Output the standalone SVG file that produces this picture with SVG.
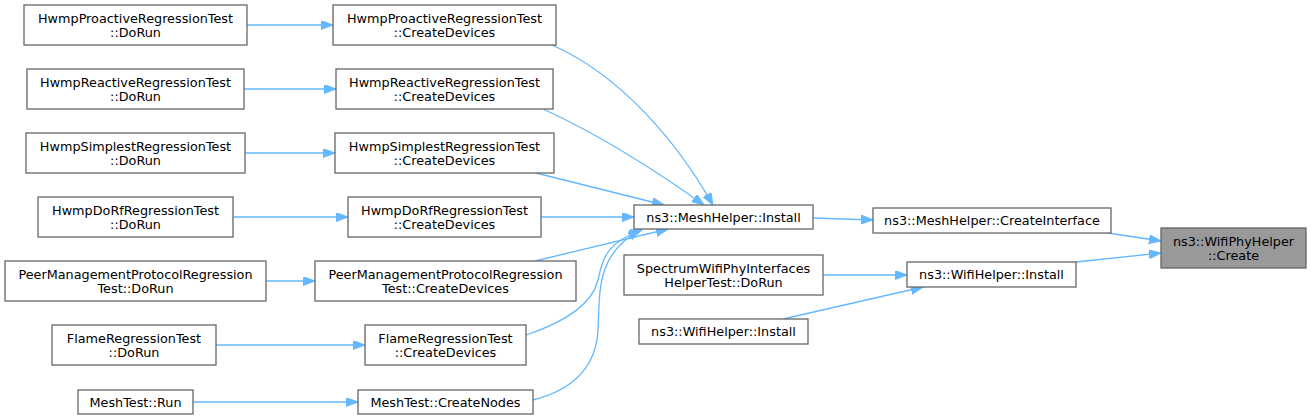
<svg xmlns="http://www.w3.org/2000/svg" width="1312" height="420" viewBox="0 0 1312 420">
<style>
.n rect{fill:#ffffff;stroke:#666666;stroke-width:1.3}
.n.hl rect{fill:#999999}
.n text{font-family:"DejaVu Sans","Liberation Sans",sans-serif;font-size:12.8px;fill:#000000;text-anchor:middle}
.e path{fill:none;stroke:#63b8ff;stroke-width:1.3;marker-end:url(#ah)}
</style>
<defs>
<marker id="ah" markerUnits="userSpaceOnUse" markerWidth="13" markerHeight="10" refX="12" refY="4.5" orient="auto">
<path d="M0,0 L12,4.5 L0,9 z" fill="#63b8ff" stroke="#63b8ff" stroke-width="1"/>
</marker>
</defs>
<rect width="1312" height="420" fill="#ffffff"/>
<g id="edges" class="e">
<path d="M247,25 L333,25"/>
<path d="M244,89 L336,89"/>
<path d="M245,153 L335,153"/>
<path d="M233,217 L348,217"/>
<path d="M266,281 L315,281"/>
<path d="M216,345 L365,345"/>
<path d="M193,402 L358,402"/>
<path d="M552,45 C620,75 676,140 713,205"/>
<path d="M543,109 C600,135 655,170 704,205"/>
<path d="M536,173 L664,205"/>
<path d="M541,217 L634,217"/>
<path d="M535,261 L668,229"/>
<path d="M526,335 C565,322 592,305 598,280 C603,258 606,243 642,230"/>
<path d="M533,400 C572,390 596,368 598,330 C600,290 596,255 640,230"/>
<path d="M813,218 L873,220"/>
<path d="M823,275 L907,275"/>
<path d="M783,319 L923,287"/>
<path d="M1108,233 L1161,241"/>
<path d="M1076,262 L1161,253"/>
</g>
<g id="node_hwmp_proactive_dorun" class="n"><rect x="24" y="5" width="223" height="40"/><text x="135.5" y="22.5">HwmpProactiveRegressionTest</text><text x="135.5" y="36.5">::DoRun</text></g>
<g id="node_hwmp_proactive_create" class="n"><rect x="333" y="5" width="223" height="40"/><text x="444.5" y="22.5">HwmpProactiveRegressionTest</text><text x="444.5" y="36.5">::CreateDevices</text></g>
<g id="node_hwmp_reactive_dorun" class="n"><rect x="27" y="69" width="217" height="40"/><text x="135.5" y="86.5">HwmpReactiveRegressionTest</text><text x="135.5" y="100.5">::DoRun</text></g>
<g id="node_hwmp_reactive_create" class="n"><rect x="336" y="69" width="217" height="40"/><text x="444.5" y="86.5">HwmpReactiveRegressionTest</text><text x="444.5" y="100.5">::CreateDevices</text></g>
<g id="node_hwmp_simplest_dorun" class="n"><rect x="26" y="133" width="219" height="40"/><text x="135.5" y="150.5">HwmpSimplestRegressionTest</text><text x="135.5" y="164.5">::DoRun</text></g>
<g id="node_hwmp_simplest_create" class="n"><rect x="335" y="133" width="219" height="40"/><text x="444.5" y="150.5">HwmpSimplestRegressionTest</text><text x="444.5" y="164.5">::CreateDevices</text></g>
<g id="node_hwmp_dorf_dorun" class="n"><rect x="38" y="197" width="195" height="40"/><text x="135.5" y="214.5">HwmpDoRfRegressionTest</text><text x="135.5" y="228.5">::DoRun</text></g>
<g id="node_hwmp_dorf_create" class="n"><rect x="348" y="197" width="193" height="40"/><text x="444.5" y="214.5">HwmpDoRfRegressionTest</text><text x="444.5" y="228.5">::CreateDevices</text></g>
<g id="node_peer_dorun" class="n"><rect x="5" y="261" width="261" height="40"/><text x="135.5" y="278.5">PeerManagementProtocolRegression</text><text x="135.5" y="292.5">Test::DoRun</text></g>
<g id="node_peer_create" class="n"><rect x="315" y="261" width="261" height="40"/><text x="445.5" y="278.5">PeerManagementProtocolRegression</text><text x="445.5" y="292.5">Test::CreateDevices</text></g>
<g id="node_flame_dorun" class="n"><rect x="52" y="325" width="164" height="40"/><text x="134" y="342.5">FlameRegressionTest</text><text x="134" y="356.5">::DoRun</text></g>
<g id="node_flame_create" class="n"><rect x="365" y="325" width="161" height="40"/><text x="445.5" y="342.5">FlameRegressionTest</text><text x="445.5" y="356.5">::CreateDevices</text></g>
<g id="node_meshtest_run" class="n"><rect x="78" y="390" width="115" height="24"/><text x="135.5" y="406.5">MeshTest::Run</text></g>
<g id="node_meshtest_createnodes" class="n"><rect x="358" y="390" width="175" height="24"/><text x="445.5" y="406.5">MeshTest::CreateNodes</text></g>
<g id="node_meshhelper_install" class="n"><rect x="634" y="205" width="179" height="24"/><text x="723.5" y="221.5">ns3::MeshHelper::Install</text></g>
<g id="node_meshhelper_createinterface" class="n"><rect x="873" y="208" width="238" height="25"/><text x="992" y="225">ns3::MeshHelper::CreateInterface</text></g>
<g id="node_spectrum_dorun" class="n"><rect x="624" y="255" width="199" height="40"/><text x="723.5" y="272.5">SpectrumWifiPhyInterfaces</text><text x="723.5" y="286.5">HelperTest::DoRun</text></g>
<g id="node_wifihelper_install_a" class="n"><rect x="907" y="262" width="169" height="25"/><text x="991.5" y="279">ns3::WifiHelper::Install</text></g>
<g id="node_wifihelper_install_b" class="n"><rect x="639" y="319" width="169" height="25"/><text x="723.5" y="336">ns3::WifiHelper::Install</text></g>
<g id="node_wifiphyhelper_create" class="n hl"><rect x="1161" y="228" width="145" height="40"/><text x="1233.5" y="245.5">ns3::WifiPhyHelper</text><text x="1233.5" y="259.5">::Create</text></g>
</svg>
